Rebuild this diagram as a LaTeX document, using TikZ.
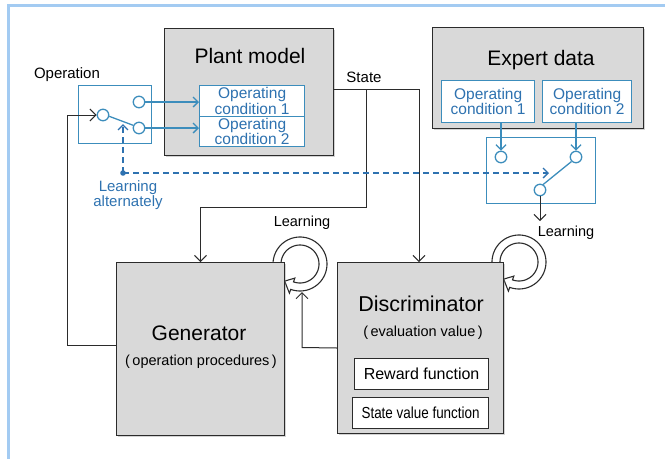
\documentclass[tikz,border=0pt]{standalone}
\usepackage{fontspec}
\setmainfont{Liberation Sans}
\usetikzlibrary{arrows.meta,shadows,calc}
\definecolor{framec}{HTML}{A3CBF2}
\definecolor{boxgray}{HTML}{D9D9D9}
\definecolor{dark}{HTML}{2B2B2B}
\definecolor{swblue}{HTML}{3C8DBC}
\definecolor{tblue}{HTML}{2E72B0}
\tikzset{
 graybox/.style={draw=dark, fill=boxgray, line width=1pt, inner sep=0pt, anchor=north west,
   drop shadow={opacity=0.35, shadow xshift=1.5pt, shadow yshift=-1.5pt}},
 condbox/.style={draw=swblue, fill=white, line width=1.3pt, inner sep=0pt, anchor=north west,
   text=tblue, align=center, font=\fontsize{15.5}{12.5}\selectfont},
 funcbox/.style={draw=dark, fill=white, line width=1.2pt, inner sep=0pt, anchor=north west,
   font=\fontsize{16}{18}\selectfont},
 swbox/.style={draw=swblue, line width=1.2pt, inner sep=0pt, anchor=north west},
 term/.style={circle, draw=swblue, line width=1.3pt, minimum size=11.5pt, inner sep=0pt, fill=white},
 blk/.style={draw=dark, line width=1pt},
 blktip/.style={-{Straight Barb[length=6pt,width=12pt,line width=1pt]}},
 bluearr/.style={draw=swblue, line width=1.3pt, -{Straight Barb[length=5pt,width=10pt]}},
 learndash/.style={draw=tblue, line width=1.3pt, dash pattern=on 6pt off 4pt,
   -{Straight Barb[length=5pt,width=10pt]}},
 ringsh/.style={draw=dark, fill=white, line width=1.1pt},
 lbl/.style={inner sep=0pt, anchor=base},
 bigf/.style={font=\fontsize{21}{24}\selectfont},
 midf/.style={font=\fontsize{14.5}{17}\selectfont},
}
\begin{document}
\begin{tikzpicture}[x=1pt,y=-1pt]
\useasboundingbox (0,0) rectangle (665,459);
% frame
\fill[framec] (7,4) rectangle (665,7);
\fill[framec] (7,4) rectangle (10,459);

% learning rings (drawn before the boxes)
\begin{scope}[shift={(300,264)}]
\path[ringsh] plot[domain=172:470,samples=60] (\x:27) -- (470:31) -- (492:23) -- (470:15)
  -- plot[domain=470:172,samples=60] (\x:19) -- cycle;
\end{scope}
\begin{scope}[shift={(519,262)}]
\path[ringsh] plot[domain=172:470,samples=60] (\x:27) -- (470:31) -- (492:23) -- (470:15)
  -- plot[domain=470:172,samples=60] (\x:19) -- cycle;
\end{scope}

% big boxes
\node[graybox, minimum width=169pt, minimum height=127pt] (plant) at (164,28) {};
\node[graybox, minimum width=211pt, minimum height=101pt] (expert) at (432,27) {};
\node[graybox, minimum width=168pt, minimum height=173pt] (gen) at (116,262) {};
\node[graybox, minimum width=166pt, minimum height=171pt] (disc) at (337,262) {};

% titles
\node[lbl, bigf] (plantlbl) at (250,63) {Plant model};
\node[lbl, bigf] (expertlbl) at (541,65) {Expert data};
\node[lbl, bigf] (genlbl) at (199,340) {Generator};
\node[lbl, font=\fontsize{14.5}{17}\selectfont] (gensub) at (201,365) {(\,operation procedures\,)};
\node[lbl, font=\fontsize{21.5}{24}\selectfont] (disclbl) at (421,311) {Discriminator};
\node[lbl, font=\fontsize{14.5}{17}\selectfont] (discsub) at (423,336) {(\,evaluation value\,)};

% condition boxes
\node[condbox, minimum width=105pt, minimum height=31pt] (pc1) at (199,85) {Operating\\condition 1};
\node[condbox, minimum width=105pt, minimum height=30pt] (pc2) at (199,116) {Operating\\condition 2};
\node[condbox, minimum width=93pt, minimum height=42pt] (ec1) at (441,80) {Operating\\condition 1};
\node[condbox, minimum width=89pt, minimum height=42pt] (ec2) at (542,80) {Operating\\condition 2};

% function boxes
\node[funcbox, minimum width=134pt, minimum height=31pt] (rew) at (354,358) {Reward function};
\node[funcbox, minimum width=136pt, minimum height=31pt] (svf) at (352,397) {\scalebox{0.84}[1]{State value function}};

% switches
\node[swbox, minimum width=73pt, minimum height=58pt] (sw1) at (78,85) {};
\node[swbox, minimum width=109pt, minimum height=66pt] (sw2) at (486,137) {};
\node[term] (c1a) at (139,102) {};
\node[term] (c1b) at (139,128) {};
\node[term] (c1in) at (103,115) {};
\node[term] (c2a) at (501,157) {};
\node[term] (c2b) at (576,157) {};
\node[term] (c2out) at (540,190) {};
\draw[swblue, line width=1.3pt] (c1in.-12) -- (c1b.155);
\draw[swblue, line width=1.3pt] (c2out.60) -- (c2b.225);

% labels
\node[lbl, font=\fontsize{15}{17}\selectfont] (oplbl) at (67,78) {Operation};
\node[lbl, font=\fontsize{15}{17}\selectfont] (stlbl) at (364,82) {State};
\node[lbl, midf] (lrn1) at (302,226) {Learning};
\node[lbl, midf] (lrn2) at (566,236) {Learning};
\node[anchor=north, inner sep=0pt, text=tblue, align=center, font=\fontsize{15}{15.5}\selectfont] (alt) at (128,180) {Learning\\alternately};

% operation feedback
\coordinate (opl) at (67,345);
\draw[blk, blktip] (gen.west |- opl) -- (opl) -- (opl |- c1in) -- (c1in.west);
% switch to plant
\draw[bluearr] (c1a.east) -- (pc1.west |- c1a);
\draw[bluearr] (c1b.east) -- (pc2.west |- c1b);
% state
\coordinate (st) at (419,89);
\coordinate (br) at (366,89);
\coordinate (brd) at (366,207);
\draw[blk, blktip] (plant.east |- st) -- (st) -- (st |- disc.north);
\draw[blk, blktip] (br) -- (brd) -- (brd -| gen.north) -- (gen.north);
% discriminator to generator learning
\coordinate (dg) at (302,347.5);
\coordinate (dgt) at (302,292);
\draw[blk, blktip] (disc.west) -- (dg) -- (dgt);
% expert data to switch
\draw[bluearr] (c2a |- ec1.south) -- (c2a.north);
\draw[bluearr] (c2b |- ec2.south) -- (c2b.north);
% switch output
\coordinate (lout) at (540,221);
\draw[blk, blktip] (c2out.south) -- (lout);
% learning alternately
\coordinate (ldot) at (123,173);
\coordinate (dup) at (123,124);
\coordinate (dright) at (549,173);
\fill[tblue] (ldot) circle[radius=2.8];
\draw[learndash] (ldot) -- (dup);
\draw[learndash] (ldot) -- (dright);
\end{tikzpicture}
\end{document}
